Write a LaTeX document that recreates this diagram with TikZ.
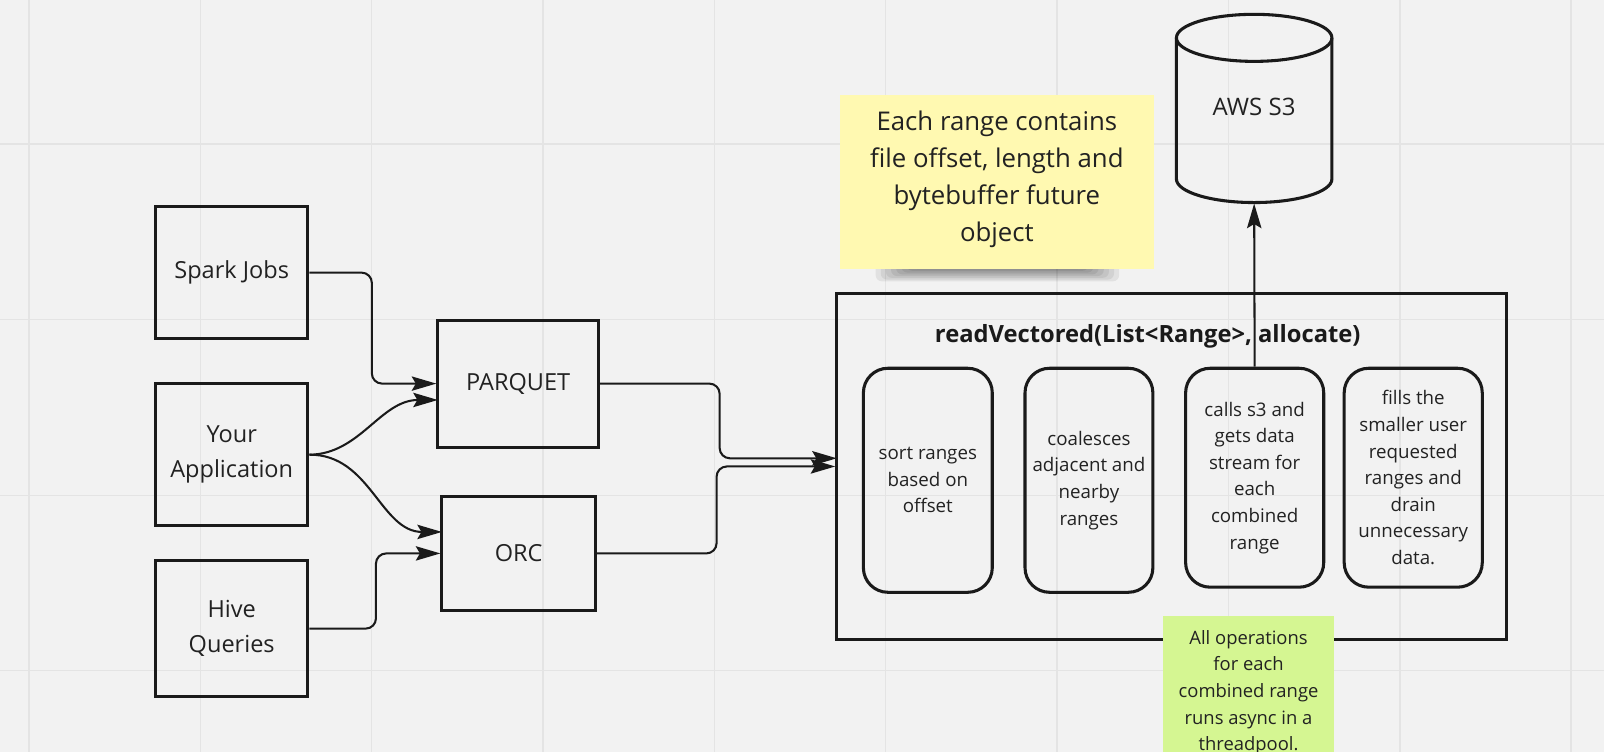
\documentclass[tikz,border=0pt]{standalone}
\usepackage{fontspec}
\setmainfont{Open Sans}
\usetikzlibrary{arrows.meta}
\definecolor{bg}{HTML}{F2F2F2}
\definecolor{gridc}{HTML}{E4E4E4}
\definecolor{ink}{HTML}{1A1A1A}
\definecolor{txt}{HTML}{222222}
\definecolor{stickyY}{HTML}{FFF9B1}
\definecolor{stickyG}{HTML}{D5F692}
\begin{document}
\begin{tikzpicture}[x=1pt,y=-1pt,
  box/.style={draw=ink, line width=3pt, text=txt, align=center, inner sep=0pt,
    font=\fontsize{23}{34.5}\selectfont},
  inbox/.style={draw=ink, line width=3pt, rounded corners=24pt, text=txt, align=center,
    inner sep=0pt, font=\fontsize{18.3}{26}\selectfont},
  conn/.style={draw=ink, line width=2pt, rounded corners=10pt,
    -{Stealth[length=24pt,width=14pt,inset=4pt]}},
  sticky/.style={inner sep=0pt, text=txt, align=center},
  shade/.style={fill=black, fill opacity=0.065, rounded corners=6pt}]
\fill[bg] (0,0) rectangle (1568,735);
\useasboundingbox (0,0) rectangle (1568,735);
% grid
\foreach \gx in {28.3,195.8,363.3,530.8,698.3,865.8,1033.3,1200.8,1368.3,1535.8}
  \draw[gridc, line width=1.5pt] (\gx,0) -- (\gx,735);
\foreach \gy in {141,312.5,484.5,655.5}
  \draw[gridc, line width=1.5pt] (0,\gy) -- (1568,\gy);

% left boxes
\node[box, minimum width=149pt, minimum height=129pt] (spark) at (226.5,266.5) {Spark Jobs};
\node[box, minimum width=149pt, minimum height=139pt] (app) at (226.5,444.5) {Your\\Application};
\node[box, minimum width=149pt, minimum height=133pt] (hive) at (226.5,614.5) {Hive\\Queries};
\node[box, minimum width=157pt, minimum height=124pt] (parquet) at (506.5,375) {PARQUET};
\node[box, minimum width=150pt, minimum height=112pt] (orc) at (507,541) {ORC};

% big box
\node[box, minimum width=655pt, minimum height=338pt] (big) at (1145.5,456) {};
\node[text=ink, font=\bfseries\fontsize{23.2}{28}\selectfont] (title) at (1122,329)
  {readVectored(List<Range>, allocate)};
\node[inbox, minimum width=126pt, minimum height=219pt] (b1) at (907,469.5)
  {sort ranges\\based on\\offset};
\node[inbox, minimum width=125pt, minimum height=219pt] (b2) at (1064.5,469.5)
  {coalesces\\adjacent and\\nearby\\ranges};
\node[inbox, minimum width=135pt, minimum height=214pt] (b3) at (1226.5,467)
  {calls s3 and\\gets data\\stream for\\each\\combined\\range};
\node[inbox, minimum width=135pt, minimum height=214pt] (b4) at (1381.5,467)
  {fills the\\smaller user\\requested\\ranges and\\drain\\unnecessary\\data.};

% cylinder
\draw[ink, line width=3pt] (1150,37) -- (1150,175)
  arc[start angle=180, end angle=0, x radius=76, y radius=23] -- (1302,37);
\draw[ink, line width=3pt] (1226,37) ellipse [x radius=76, y radius=23];
\node[text=txt, font=\fontsize{23.5}{28}\selectfont] (s3) at (1226,104.5) {AWS S3};
\coordinate (s3b) at (1226,199);

% connectors
\coordinate (pq2) at (428,391);
\coordinate (orc2) at (432,520);
\coordinate (big1) at (818,448);
\draw[conn] (spark.east) -- ++(61,0) |- (parquet.west);
\draw[conn] (app.east) .. controls (352,444) and (372,391) .. (pq2);
\draw[conn] (app.east) .. controls (362,444) and (372,520) .. (orc2);
\draw[conn] (hive.east) -- ++(65,0) |- (orc.west);
\draw[conn] (parquet.east) -- ++(117,0) |- (big1);
\draw[conn] (orc.east) -- ++(117,0) |- (big.west);
\draw[conn] (b3.north) -- (s3b);

% yellow sticky with its shadow
\foreach \k in {0,...,7}
  \fill[shade] (856+\k*5,240) rectangle (1094-\k*5,275-\k*1.7);
\node[sticky, fill=stickyY, minimum width=307pt, minimum height=170pt] (note1) at (974.5,178) {};
\node[sticky, font=\fontsize{25.2}{36}\selectfont] (note1t) at (974.5,175.5)
  {Each range contains\\file offset, length and\\bytebuffer future\\object};

% green sticky
\fill[stickyG] (1137,602) rectangle (1304,735);
\node[sticky, anchor=north, font=\fontsize{18}{26}\selectfont] (note2) at (1220.5,616)
  {All operations\\for each\\combined range\\runs async in a\\threadpool.};
\end{tikzpicture}
\end{document}
